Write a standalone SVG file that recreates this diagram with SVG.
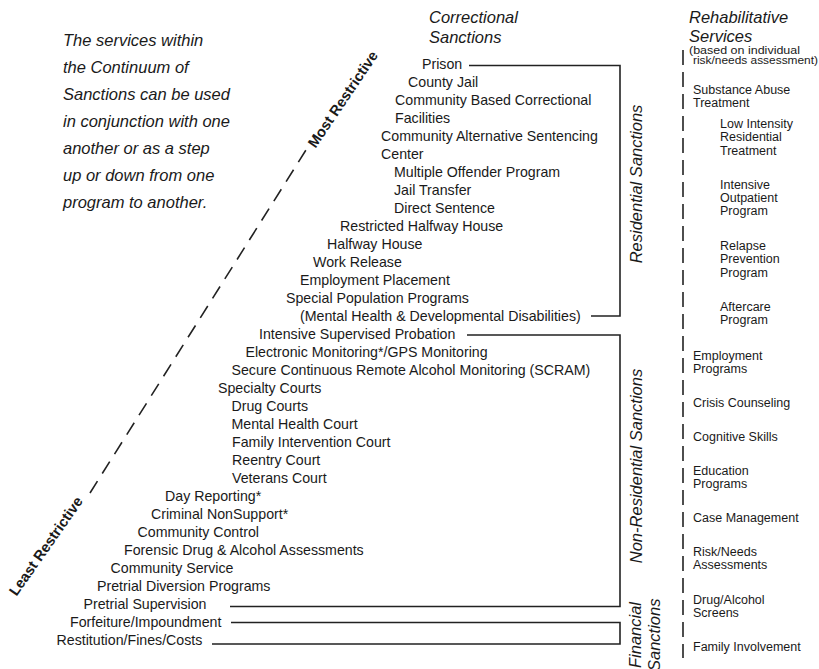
<svg xmlns="http://www.w3.org/2000/svg" width="819" height="669" viewBox="0 0 819 669">
<style>
text{font-family:"Liberation Sans",Arial,sans-serif;fill:#1a1a1a}
.it{font-style:italic;font-size:16.5px}
.m{font-size:14.2px}
.r{font-size:12.5px}
.s{font-size:10.5px}
.b{font-weight:bold;font-size:14.6px}
.br{fill:none;stroke:#222;stroke-width:1.6}
.dash{fill:none;stroke:#222;stroke-width:1.6}
</style>
<rect width="819" height="669" fill="#fff"/>
<g id="intro">
<text class="it" x="63" y="46">The services within</text>
<text class="it" x="63" y="73">the Continuum of</text>
<text class="it" x="63" y="100">Sanctions can be used</text>
<text class="it" x="63" y="127">in conjunction with one</text>
<text class="it" x="63" y="154">another or as a step</text>
<text class="it" x="63" y="181">up or down from one</text>
<text class="it" x="63" y="208">program to another.</text>
</g>
<g id="hdr-correctional"><text class="it" x="429" y="23">Correctional</text><text class="it" x="429" y="43">Sanctions</text></g>
<g id="hdr-rehab"><text class="it" x="689" y="23">Rehabilitative</text><text class="it" x="689" y="42">Services</text>
<text class="s" x="689" y="54" textLength="111" lengthAdjust="spacingAndGlyphs">(based on individual</text><text class="s" x="693" y="63.5" textLength="125" lengthAdjust="spacingAndGlyphs">risk/needs assessment)</text></g>
<g id="axis-labels">
<text class="b" transform="translate(50,549) rotate(-55)" text-anchor="middle">Least Restrictive</text>
<text class="b" transform="translate(347,102) rotate(-56)" text-anchor="middle">Most Restrictive</text>
</g>
<g id="side-labels">
<text class="it" transform="translate(642,184) rotate(-90)" text-anchor="middle">Residential Sanctions</text>
<text class="it" transform="translate(642,466) rotate(-90)" text-anchor="middle">Non-Residential Sanctions</text>
<text class="it" transform="translate(641,668) rotate(-90)">Financial</text>
<text class="it" transform="translate(660,671) rotate(-90)">Sanctions</text>
</g>
<g id="sanctions">
<g id="s0"><text class="m" x="422" y="68.5">Prison</text></g>
<g id="s1"><text class="m" x="408" y="86.5">County Jail</text></g>
<g id="s2"><text class="m" x="395" y="104.5">Community Based Correctional</text><text class="m" x="395" y="122.5">Facilities</text></g>
<g id="s3"><text class="m" x="381" y="140.5">Community Alternative Sentencing</text><text class="m" x="381" y="158.5">Center</text></g>
<g id="s4"><text class="m" x="394" y="176.5">Multiple Offender Program</text></g>
<g id="s5"><text class="m" x="394" y="194.5">Jail Transfer</text></g>
<g id="s6"><text class="m" x="394" y="212.5">Direct Sentence</text></g>
<g id="s7"><text class="m" x="340" y="230.5">Restricted Halfway House</text></g>
<g id="s8"><text class="m" x="327" y="248.5">Halfway House</text></g>
<g id="s9"><text class="m" x="313" y="266.5">Work Release</text></g>
<g id="s10"><text class="m" x="300" y="284.5">Employment Placement</text></g>
<g id="s11"><text class="m" x="286" y="302.5">Special Population Programs</text><text class="m" x="300" y="320.5">(Mental Health &amp; Developmental Disabilities)</text></g>
<g id="s12"><text class="m" x="259" y="338.5">Intensive Supervised Probation</text></g>
<g id="s13"><text class="m" x="245.5" y="356.5">Electronic Monitoring*/GPS Monitoring</text></g>
<g id="s14"><text class="m" x="231.5" y="374.5">Secure Continuous Remote Alcohol Monitoring (SCRAM)</text></g>
<g id="s15"><text class="m" x="218" y="392.5">Specialty Courts</text></g>
<g id="s16"><text class="m" x="231.5" y="410.5">Drug Courts</text></g>
<g id="s17"><text class="m" x="231.5" y="428.5">Mental Health Court</text></g>
<g id="s18"><text class="m" x="232" y="446.5">Family Intervention Court</text></g>
<g id="s19"><text class="m" x="232" y="464.5">Reentry Court</text></g>
<g id="s20"><text class="m" x="232" y="482.5">Veterans Court</text></g>
<g id="s21"><text class="m" x="165" y="500.5">Day Reporting*</text></g>
<g id="s22"><text class="m" x="151" y="518.5">Criminal NonSupport*</text></g>
<g id="s23"><text class="m" x="137.5" y="536.5">Community Control</text></g>
<g id="s24"><text class="m" x="124" y="554.5">Forensic Drug &amp; Alcohol Assessments</text></g>
<g id="s25"><text class="m" x="110.5" y="572.5">Community Service</text></g>
<g id="s26"><text class="m" x="97" y="590.5">Pretrial Diversion Programs</text></g>
<g id="s27"><text class="m" x="83.5" y="608.5">Pretrial Supervision</text></g>
<g id="s28"><text class="m" x="70" y="626.5">Forfeiture/Impoundment</text></g>
<g id="s29"><text class="m" x="56.5" y="644.5">Restitution/Fines/Costs</text></g>
</g>
<g id="services">
<g id="r1"><text class="r" x="693" y="94">Substance Abuse<tspan x="693" dy="13.4">Treatment</tspan></text></g>
<g id="r2"><text class="r" x="720" y="128">Low Intensity<tspan x="720" dy="13.4">Residential</tspan><tspan x="720" dy="13.4">Treatment</tspan></text></g>
<g id="r3"><text class="r" x="720" y="188.5">Intensive<tspan x="720" dy="13.4">Outpatient</tspan><tspan x="720" dy="13.4">Program</tspan></text></g>
<g id="r4"><text class="r" x="720" y="250">Relapse<tspan x="720" dy="13.4">Prevention</tspan><tspan x="720" dy="13.4">Program</tspan></text></g>
<g id="r5"><text class="r" x="720" y="311">Aftercare<tspan x="720" dy="13.4">Program</tspan></text></g>
<g id="r6"><text class="r" x="693" y="359.5">Employment<tspan x="693" dy="13.4">Programs</tspan></text></g>
<g id="r7"><text class="r" x="693" y="406.5">Crisis Counseling</text></g>
<g id="r8"><text class="r" x="693" y="440.5">Cognitive Skills</text></g>
<g id="r9"><text class="r" x="693" y="474.5">Education<tspan x="693" dy="13.4">Programs</tspan></text></g>
<g id="r10"><text class="r" x="693" y="522">Case Management</text></g>
<g id="r11"><text class="r" x="693" y="556">Risk/Needs<tspan x="693" dy="13.4">Assessments</tspan></text></g>
<g id="r12"><text class="r" x="693" y="604">Drug/Alcohol<tspan x="693" dy="13.4">Screens</tspan></text></g>
<g id="r13"><text class="r" x="693" y="651">Family Involvement</text></g>
</g>
<g id="connectors">
<path class="br" d="M469,65.5 H620 V316 H591"/>
<path class="br" d="M467,335 H620 V606.5 H230"/>
<path class="br" d="M231,622.5 H620 V644 H212"/>
<line class="dash" x1="90" y1="493" x2="306" y2="150" stroke-dasharray="14 9"/>
<line class="dash" x1="683" y1="50" x2="683" y2="658" stroke-dasharray="15 7"/>
</g>
</svg>
